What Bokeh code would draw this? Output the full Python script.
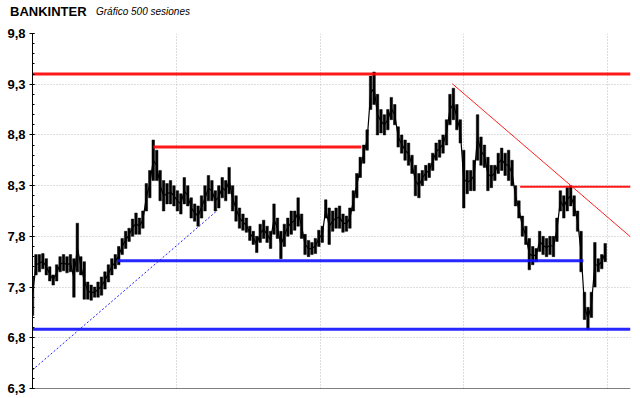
from bokeh.plotting import figure
from bokeh.models import Range1d, FixedTicker, CustomJSTickFormatter, Grid, Span, ColumnDataSource, Div
from bokeh.layouts import column
from bokeh.embed import file_html
from bokeh.resources import INLINE

# ---- data (sessions every 3 bars, high / low) ----
sessions = list(range(0, 501, 3))
highs = [
    7.40, 7.62, 7.62, 7.63, 7.58, 7.50, 7.42, 7.52, 7.60, 7.62,
    7.60, 7.62, 7.58, 7.93, 7.60, 7.55, 7.35, 7.32, 7.30, 7.35,
    7.40, 7.45, 7.52, 7.58, 7.62, 7.70, 7.78, 7.85, 7.88, 7.97,
    8.03, 7.98, 8.05, 8.32, 8.45, 8.75, 8.65, 8.45, 8.35, 8.32,
    8.35, 8.30, 8.25, 8.22, 8.38, 8.30, 8.18, 8.12, 8.10, 8.20,
    8.30, 8.40, 8.35, 8.25, 8.30, 8.38, 8.35, 8.48, 8.30, 8.20,
    8.08, 8.02, 7.98, 7.90, 7.85, 7.80, 7.92, 7.96, 7.90, 7.85,
    8.12, 7.98, 7.85, 7.92, 7.98, 8.05, 8.05, 8.18, 8.02, 7.82,
    7.76, 7.74, 7.78, 7.86, 7.90, 8.16, 8.08, 8.05, 8.08, 8.10,
    8.02, 8.00, 8.08, 8.25, 8.42, 8.58, 8.70, 8.85, 9.38, 9.42,
    9.20, 9.05, 9.00, 9.05, 9.17, 9.10, 8.88, 8.80, 8.75, 8.72,
    8.60, 8.50, 8.42, 8.45, 8.50, 8.52, 8.62, 8.72, 8.75, 8.80,
    8.95, 9.20, 9.26, 9.10, 8.95, 8.65, 8.45, 8.45, 8.55, 9.00,
    8.78, 8.70, 8.58, 8.50, 8.50, 8.62, 8.67, 8.62, 8.65, 8.55,
    8.30, 8.15, 8.00, 7.90, 7.78, 7.70, 7.68, 7.85, 7.80, 7.78,
    7.80, 7.80, 7.98, 8.25, 8.20, 8.28, 8.30, 8.20, 8.05, 7.85,
    7.25, 7.10, 7.25, 7.74, 7.58, 7.62, 7.73]
lows = [
    7.02, 7.42, 7.45, 7.48, 7.42, 7.36, 7.32, 7.36, 7.45, 7.46,
    7.44, 7.45, 7.20, 7.45, 7.42, 7.18, 7.18, 7.17, 7.20, 7.20,
    7.22, 7.28, 7.35, 7.42, 7.48, 7.52, 7.62, 7.68, 7.75, 7.80,
    7.82, 7.82, 7.88, 8.05, 8.18, 8.35, 8.35, 8.15, 8.05, 8.12,
    8.12, 8.10, 8.05, 8.02, 8.12, 8.10, 7.98, 7.95, 7.90, 7.98,
    8.05, 8.15, 8.15, 8.05, 8.08, 8.18, 8.15, 8.22, 8.05, 7.95,
    7.88, 7.86, 7.84, 7.76, 7.72, 7.64, 7.74, 7.78, 7.74, 7.68,
    7.82, 7.78, 7.58, 7.70, 7.80, 7.82, 7.86, 7.90, 7.78, 7.62,
    7.60, 7.62, 7.63, 7.70, 7.74, 7.98, 7.72, 7.85, 7.88, 7.88,
    7.84, 7.85, 7.88, 8.05, 8.18, 8.38, 8.52, 8.65, 9.05, 9.10,
    8.80, 8.82, 8.80, 8.85, 8.95, 8.90, 8.68, 8.62, 8.55, 8.50,
    8.42, 8.20, 8.18, 8.30, 8.35, 8.38, 8.45, 8.55, 8.58, 8.62,
    8.70, 8.90, 8.95, 8.85, 8.72, 8.08, 8.22, 8.25, 8.25, 8.55,
    8.50, 8.48, 8.25, 8.28, 8.35, 8.42, 8.45, 8.40, 8.35, 8.30,
    8.10, 7.98, 7.80, 7.72, 7.47, 7.52, 7.55, 7.65, 7.62, 7.60,
    7.62, 7.60, 7.75, 8.05, 7.98, 8.05, 8.10, 8.00, 7.85, 7.45,
    6.98, 6.88, 7.00, 7.30, 7.45, 7.48, 7.55]

# support / resistance levels: (price, start session, end session)
red_levels = [9.40, 8.68, 8.29]
red_start = [0, 105, 424]
red_end = [520, 286, 520]
blue_levels = [7.56, 6.885]
blue_start = [74, 0]
blue_end = [479, 520]
# trend lines
red_trend_x = [365, 520]
red_trend_y = [9.305, 7.795]
blue_trend_x = [0, 161]
blue_trend_y = [6.483, 8.058]

y_ticks = [6.3, 6.8, 7.3, 7.8, 8.3, 8.8, 9.3, 9.8]
y_minor = [6.3, 6.4, 6.5, 6.6, 6.7, 6.8, 6.9, 7.0, 7.1, 7.2, 7.3, 7.4, 7.5, 7.6, 7.7,
           7.8, 7.9, 8.0, 8.1, 8.2, 8.3, 8.4, 8.5, 8.6, 8.7, 8.8, 8.9, 9.0, 9.1, 9.2,
           9.3, 9.4, 9.5, 9.6, 9.7, 9.8]
x_grid = [125, 250, 375, 500]

FONT = "Liberation Sans"
W = 636

title = Div(
    text=('<div style="display:flex;flex-direction:row;align-items:center;height:24px;'
          'margin:0;padding:0">'
          '<div style="flex:0 0 auto;box-sizing:content-box;width:86px;padding-left:10px;'
          'font-weight:bold;font-size:13px;white-space:nowrap">BANKINTER</div>'
          '<div style="flex:0 0 auto;font-style:italic;font-size:10px;white-space:nowrap">'
          'Gráfico 500 sesiones</div></div>'),
    width=W, height=25,
    styles={"font-family": FONT, "color": "black", "margin": "0", "padding": "0"})

p = figure(width=W, height=371, output_backend="svg", toolbar_location=None,
           x_axis_type=None, x_range=Range1d(0, 520), y_range=Range1d(6.3, 9.8),
           min_border_left=32, min_border_right=6, min_border_top=8, min_border_bottom=8)
p.outline_line_color = None
p.background_fill_color = "white"
p.border_fill_color = "white"

ax = p.yaxis[0]
ax.ticker = FixedTicker(ticks=y_ticks, minor_ticks=y_minor)
ax.formatter = CustomJSTickFormatter(code="return tick.toFixed(1).replace('.', ',');")
ax.major_label_text_font = FONT
ax.major_label_text_font_style = "bold"
ax.major_label_text_font_size = "13px"
ax.major_label_text_color = "black"
ax.major_label_standoff = 4
ax.major_tick_in = 2
ax.major_tick_out = 3
ax.minor_tick_in = 2
ax.minor_tick_out = 0
ax.axis_line_color = "black"
ax.major_tick_line_color = "black"
ax.minor_tick_line_color = "black"

p.ygrid.ticker = FixedTicker(ticks=y_ticks)
p.ygrid.grid_line_color = "#bcbcbc"
p.ygrid.grid_line_dash = "1 2"
xg = Grid(dimension=0, ticker=FixedTicker(ticks=x_grid),
          grid_line_color="#bcbcbc", grid_line_dash="1 2")
p.center.append(xg)

src = ColumnDataSource(dict(s=sessions, high=highs, low=lows,
                            mid=[(h + l) / 2 for h, l in zip(highs, lows)]))
p.vbar(x="s", bottom="low", top="high", width=2.2, source=src,
       fill_color="black", line_color="black", line_width=0.5)
p.line(x="s", y="mid", source=src, line_color="black", line_width=1.2)

# horizontal levels
p.segment(x0=red_start, x1=red_end, y0=red_levels, y1=red_levels,
          line_color="#ff0000", line_width=[3, 3, 2], line_alpha=0.9)
p.segment(x0=blue_start, x1=blue_end, y0=blue_levels, y1=blue_levels,
          line_color="#1010ff", line_width=3, line_alpha=0.9)
p.line(red_trend_x, red_trend_y, line_color="#ff2020", line_width=1)
p.line(blue_trend_x, blue_trend_y, line_color="#2020ff", line_width=1, line_dash="2 2")

p.add_layout(Span(location=6.3, dimension="width", line_color="black", line_width=1))

layout = column(title, p, spacing=0)
open("out.html", "w").write(file_html(layout, INLINE))
